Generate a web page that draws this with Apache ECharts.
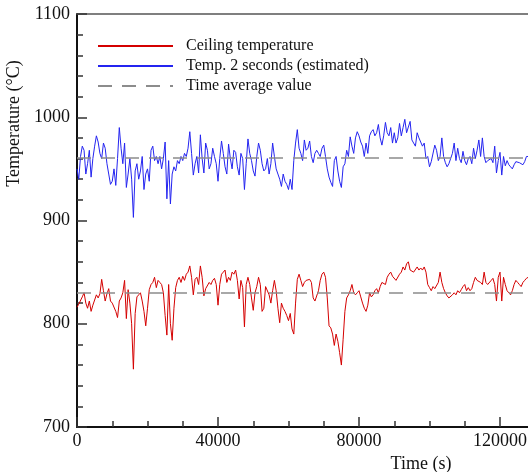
<!DOCTYPE html>
<html>
<head>
<meta charset="utf-8">
<script src="https://cdn.jsdelivr.net/npm/echarts@6/dist/echarts.min.js"></script>
<style>
  html, body { margin: 0; padding: 0; background: #fff; }
  #chart { width: 528px; height: 472px; }
</style>
</head>
<body>
<div id="chart"></div>
<script>
// time (s), one sample every 500 s
var timeSec = [
  0, 500, 1000, 1500, 2000, 2500, 3000, 3500, 4000, 4500,
  5000, 5500, 6000, 6500, 7000, 7500, 8000, 8500, 9000, 9500,
  10000, 10500, 11000, 11500, 12000, 12500, 13000, 13500, 14000, 14500,
  15000, 15500, 16000, 16500, 17000, 17500, 18000, 18500, 19000, 19500,
  20000, 20500, 21000, 21500, 22000, 22500, 23000, 23500, 24000, 24500,
  25000, 25500, 26000, 26500, 27000, 27500, 28000, 28500, 29000, 29500,
  30000, 30500, 31000, 31500, 32000, 32500, 33000, 33500, 34000, 34500,
  35000, 35500, 36000, 36500, 37000, 37500, 38000, 38500, 39000, 39500,
  40000, 40500, 41000, 41500, 42000, 42500, 43000, 43500, 44000, 44500,
  45000, 45500, 46000, 46500, 47000, 47500, 48000, 48500, 49000, 49500,
  50000, 50500, 51000, 51500, 52000, 52500, 53000, 53500, 54000, 54500,
  55000, 55500, 56000, 56500, 57000, 57500, 58000, 58500, 59000, 59500,
  60000, 60500, 61000, 61500, 62000, 62500, 63000, 63500, 64000, 64500,
  65000, 65500, 66000, 66500, 67000, 67500, 68000, 68500, 69000, 69500,
  70000, 70500, 71000, 71500, 72000, 72500, 73000, 73500, 74000, 74500,
  75000, 75500, 76000, 76500, 77000, 77500, 78000, 78500, 79000, 79500,
  80000, 80500, 81000, 81500, 82000, 82500, 83000, 83500, 84000, 84500,
  85000, 85500, 86000, 86500, 87000, 87500, 88000, 88500, 89000, 89500,
  90000, 90500, 91000, 91500, 92000, 92500, 93000, 93500, 94000, 94500,
  95000, 95500, 96000, 96500, 97000, 97500, 98000, 98500, 99000, 99500,
  100000, 100500, 101000, 101500, 102000, 102500, 103000, 103500, 104000, 104500,
  105000, 105500, 106000, 106500, 107000, 107500, 108000, 108500, 109000, 109500,
  110000, 110500, 111000, 111500, 112000, 112500, 113000, 113500, 114000, 114500,
  115000, 115500, 116000, 116500, 117000, 117500, 118000, 118500, 119000, 119500,
  120000, 120500, 121000, 121500, 122000, 122500, 123000, 123500, 124000, 124500,
  125000, 125500, 126000, 126500, 127000, 127500, 128000
];

// Ceiling temperature (red), same sampling as timeSec
var ceilingTemp = [
  816, 819, 818, 826, 830, 820, 815, 822, 812, 818,
  823, 828, 825, 829, 843, 832, 822, 829, 834, 822,
  820, 821, 812, 806, 822, 825, 830, 842, 805, 833,
  820, 800, 756, 810, 826, 828, 830, 822, 812, 798,
  815, 833, 838, 840, 845, 835, 842, 840, 838, 830,
  808, 789, 838, 800, 784, 815, 835, 842, 845, 840,
  846, 842, 848, 850, 856, 845, 828, 843, 845, 838,
  856, 845, 827, 834, 835, 840, 838, 842, 844, 838,
  818, 838, 848, 850, 852, 840, 845, 842, 850, 848,
  852, 842, 824, 842, 835, 797, 838, 845, 838, 825,
  813, 830, 836, 845, 838, 812, 815, 836, 837, 828,
  820, 832, 842, 832, 815, 801, 820, 815, 812, 808,
  803, 810, 795, 790, 820, 843, 848, 842, 836, 840,
  842, 843, 843, 840, 825, 822, 822, 832, 842, 848,
  850, 845, 825, 798, 796, 790, 779, 790, 783, 772,
  760, 785, 812, 825, 828, 832, 838, 830, 828, 830,
  832, 826, 820, 815, 812, 818, 830, 826, 828, 832,
  834, 830, 836, 840, 840, 838, 845, 848, 850, 846,
  845, 842, 843, 848, 850, 855, 852, 858, 860, 852,
  853, 850, 850, 855, 852, 854, 852, 855, 850, 838,
  835, 832, 836, 834, 834, 840, 850, 840, 834, 830,
  827, 825, 826, 828, 830, 828, 832, 830, 833, 836,
  838, 832, 835, 832, 834, 840, 845, 842, 843, 840,
  838, 850, 840, 838, 838, 842, 844, 838, 822, 845,
  850, 822, 845, 838, 832, 830, 828, 832, 838, 842,
  840, 838, 836, 840, 842, 844, 845
];

// Temp. 2 seconds (estimated) (blue), same sampling as timeSec
var temp2s = [
  950, 940, 962, 972, 968, 945, 955, 968, 942, 960,
  972, 982, 976, 965, 960, 975, 970, 955, 945, 935,
  938, 950, 934, 960, 990, 970, 955, 975, 932, 945,
  960, 940, 903, 948, 955, 940, 948, 962, 930, 945,
  950, 938, 968, 972, 958, 962, 955, 962, 950, 960,
  976, 921, 958, 916, 945, 952, 948, 958, 955, 962,
  958, 965, 962, 970, 986, 965, 944, 955, 962, 946,
  983, 960, 946, 975, 968, 950, 955, 970, 962, 955,
  938, 960, 977, 965, 952, 945, 974, 960, 950, 968,
  966, 952, 944, 965, 960, 930, 955, 979, 965, 958,
  948, 943, 962, 975, 968, 955, 948, 950, 960, 945,
  955, 975, 962, 950, 945, 940, 933, 945, 938, 935,
  930, 940, 930, 958, 975, 988, 970, 965, 958, 978,
  968, 970, 977, 962, 956, 965, 968, 965, 962, 970,
  973, 962, 950, 942, 937, 933, 958, 962, 948, 938,
  932, 952, 955, 968, 962, 981, 972, 965, 980, 986,
  982, 976, 972, 962, 975, 965, 982, 986, 988, 982,
  985, 993, 980, 973, 982, 995, 985, 982, 990, 975,
  985, 975, 980, 994, 982, 990, 998, 985, 985, 996,
  978, 975, 972, 985, 980, 980, 972, 975, 960, 962,
  952, 957, 956, 973, 968, 958, 962, 980, 962, 956,
  952, 955, 954, 965, 975, 958, 970, 960, 956, 967,
  958, 954, 960, 962, 955, 970, 960, 968, 978, 962,
  980, 962, 956, 958, 958, 960, 956, 972, 946, 958,
  966, 944, 962, 953, 958, 954, 952, 950, 954, 957,
  958, 956, 956, 954, 957, 962, 962
];

// time average values (ceiling, 2 s estimate)
var avgValues = [830, 961];

var yTicks = [700, 800, 900, 1000, 1100];
var xTicks = [0, 40000, 80000, 120000];

var font = "'Liberation Serif', 'DejaVu Serif', serif";

function pairs(xs, ys) {
  var out = [];
  for (var i = 0; i < xs.length; i++) {
    out.push([xs[i], ys[i]]);
  }
  return out;
}

var chart = echarts.init(document.getElementById("chart"));
var option = {
  animation: false,
  backgroundColor: "#fff",
  grid: {
    left: 77,
    top: 14,
    width: 564, // figure is cropped on the right, axis runs past the edge
    bottom: 45,
    outerBoundsMode: "none",
  },
  legend: {
    orient: "vertical",
    left: 92,
    top: 33,
    itemWidth: 75,
    itemHeight: 12,
    itemGap: 4,
    itemStyle: { opacity: 0 },
    data: ["Ceiling temperature", "Temp. 2 seconds (estimated)", "Time average value"],
    textStyle: {
      fontFamily: font,
      fontSize: 16,
      color: "#111",
      padding: [0, 0, 0, 8],
    },
  },
  xAxis: [
    {
      type: "value",
      min: 0,
      max: 160000,
      interval: 40000,
      name: "Time (s)",
      nameLocation: "middle",
      nameGap: 26,
      nameTextStyle: {
        fontFamily: font,
        fontSize: 18,
        color: "#111",
        padding: [0, 0, 0, 124],
      },
      axisLine: { show: true, onZero: false, lineStyle: { color: "#111", width: 2 } },
      axisTick: { show: true, inside: true, length: 10, lineStyle: { color: "#333", width: 1.5 } },
      minorTick: { show: true, splitNumber: 4, length: 6, lineStyle: { color: "#333", width: 1.5 } },
      splitLine: { show: false },
      axisLabel: {
        margin: 5,
        fontFamily: font,
        fontSize: 18,
        color: "#111",
        formatter: function (v) {
          return xTicks.indexOf(v) >= 0 ? String(v) : "";
        },
      },
    },
    {
      type: "value",
      position: "top",
      min: 0,
      max: 160000,
      axisLine: { show: true, lineStyle: { color: "#555", width: 1.5 } },
      axisTick: { show: false },
      axisLabel: { show: false },
      splitLine: { show: false },
    },
  ],
  yAxis: {
    type: "value",
    min: 700,
    max: 1100,
    interval: 100,
    name: "Temperature (°C)",
    nameLocation: "middle",
    nameGap: 48,
    nameTextStyle: {
      fontFamily: font,
      fontSize: 18,
      color: "#111",
      padding: [0, 0, 0, 194],
    },
    axisLine: { show: true, onZero: false, lineStyle: { color: "#111", width: 2 } },
    axisTick: { show: true, inside: true, length: 10, lineStyle: { color: "#333", width: 1.5 } },
    minorTick: { show: true, splitNumber: 5, length: 6, lineStyle: { color: "#333", width: 1.5 } },
    splitLine: { show: false },
    axisLabel: {
      margin: 7,
      fontFamily: font,
      fontSize: 18,
      color: "#111",
      formatter: function (v) {
        return yTicks.indexOf(v) >= 0 ? String(v) : "";
      },
    },
  },
  series: [
    {
      name: "Time average value",
      type: "line",
      symbol: "none",
      data: [],
      lineStyle: { color: "#8c8c8c", width: 1.5, type: [14, 10] },
      itemStyle: { color: "#8c8c8c" },
      markLine: {
        silent: true,
        symbol: "none",
        label: { show: false },
        lineStyle: { color: "#8c8c8c", width: 1.5, type: [14, 10] },
        data: avgValues.map(function (v) {
          return { yAxis: v };
        }),
      },
    },
    {
      name: "Ceiling temperature",
      type: "line",
      symbol: "none",
      data: pairs(timeSec, ceilingTemp),
      lineStyle: { color: "#d40000", width: 1 },
      itemStyle: { color: "#d40000" },
    },
    {
      name: "Temp. 2 seconds (estimated)",
      type: "line",
      symbol: "none",
      data: pairs(timeSec, temp2s),
      lineStyle: { color: "#2424f0", width: 1 },
      itemStyle: { color: "#2424f0" },
    },
  ],
};
chart.setOption(option);
</script>
</body>
</html>
